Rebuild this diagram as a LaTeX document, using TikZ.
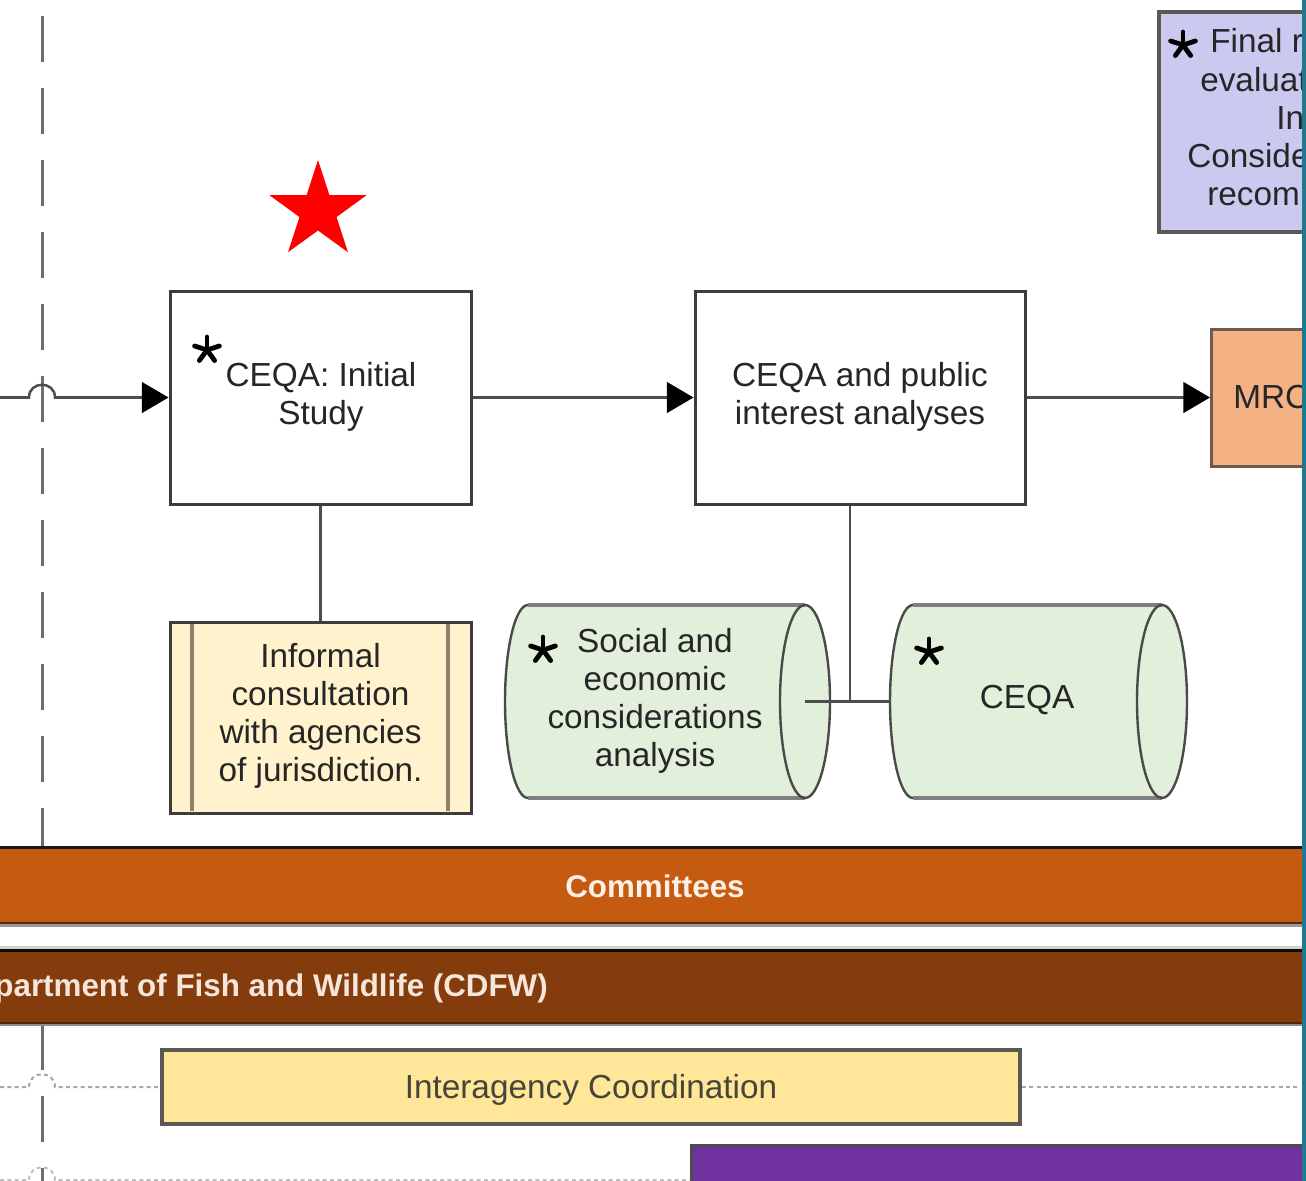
\documentclass[tikz,border=0pt]{standalone}
\usepackage{fontspec}
\setmainfont{Liberation Sans}
\usetikzlibrary{arrows.meta}
\definecolor{connc}{HTML}{4D4D4D}
\definecolor{boxc}{HTML}{3C3C3C}
\definecolor{infofill}{HTML}{FFF2CC}
\definecolor{infoline}{HTML}{8C806C}
\definecolor{cylfill}{HTML}{E2EFDA}
\definecolor{cylline}{HTML}{4A4A4A}
\definecolor{cyledge}{HTML}{7F7F7F}
\definecolor{iafill}{HTML}{FFE699}
\definecolor{iaedge}{HTML}{5A5A55}
\definecolor{iatext}{HTML}{45453A}
\definecolor{commfill}{HTML}{C55A11}
\definecolor{commtext}{HTML}{FDF0E6}
\definecolor{cdfwfill}{HTML}{843C0C}
\definecolor{cdfwtext}{HTML}{F5E6DC}
\definecolor{purpfill}{HTML}{7030A0}
\definecolor{lavfill}{HTML}{CCC9F1}
\definecolor{mrcfill}{HTML}{F4B183}
\definecolor{mrcedge}{HTML}{6E5A4E}
\definecolor{tealedge}{HTML}{1F7A8F}
\definecolor{dashc}{HTML}{6E6E6E}
\definecolor{dotc}{HTML}{A6A6A6}
\newcommand\pxu{0.75pt}
\newcommand\astmark[1]{\foreach \ang in {-90,-18,54,126,198}{\draw[line width=3.6pt, black, line cap=round] (#1) -- ++(\ang:13);}}
\newcommand\drawcyl[4]{%
  \fill[cylfill] (#2,605) -- (#1,605)
    .. controls ({#1-0.5523*#3},605) and ({#1-#3},648.2) .. ({#1-#3},701.5)
    .. controls ({#1-#3},754.8) and ({#1-0.5523*#3},798) .. (#1,798) -- (#2,798)
    .. controls ({#2+0.5523*#4},798) and ({#2+#4},754.8) .. ({#2+#4},701.5)
    .. controls ({#2+#4},648.2) and ({#2+0.5523*#4},605) .. cycle;
  \draw[cyledge, line width=2.6pt] (#1,605) -- (#2,605);
  \draw[cyledge, line width=2.6pt] (#1,798) -- (#2,798);
  \draw[cylline, line width=1.8pt] (#1,605)
    .. controls ({#1-0.5523*#3},605) and ({#1-#3},648.2) .. ({#1-#3},701.5)
    .. controls ({#1-#3},754.8) and ({#1-0.5523*#3},798) .. (#1,798);
  \draw[cylline, line width=1.8pt] (#2,701.5) ellipse [x radius=#4, y radius=96.5];
}
\begin{document}
\begin{tikzpicture}[x=0.75pt,y=-0.75pt,
  conn/.style={draw=connc, line width=1.9pt},
  arr/.style={-{Triangle[length=20pt,width=23pt,color=black]}},
  txt/.style={font=\fontsize{25}{28.5}\selectfont, text=black!85, align=center, inner sep=0pt},
  boxw/.style={draw=boxc, line width=2.25pt, fill=white, inner sep=0pt},
  dotline/.style={draw=dotc, line width=1.5pt, dash pattern=on 3pt off 2.5pt},
  bartxt/.style={font=\fontsize{23.5}{28}\selectfont\bfseries, inner sep=0pt}
]
\useasboundingbox (0,0) rectangle (1306,1181);
\clip (0,0) rectangle (1306,1181);

% vertical dashed swimlane separator
\coordinate (vtop) at (42,16);
\coordinate (vbot) at (42,1200);
\draw[draw=dashc, line width=2.25pt, dash pattern=on 34.5pt off 19.5pt] (vtop) -- (vbot);

% red star
\fill[red, shift={(318,211)}] (-90:51) -- (-54:19.5) -- (-18:51) -- (18:19.5) -- (54:51)
  -- (90:19.5) -- (126:51) -- (162:19.5) -- (198:51) -- (234:19.5) -- cycle;

% top-right box (clipped)
\node[fill=lavfill, draw=iaedge, line width=3pt, anchor=north west, minimum width=220*\pxu, minimum height=220*\pxu, inner sep=0pt] (fin) at (1157,10) {};
\begin{scope}
  \clip (1150,0) rectangle (1302,240);
  \node[txt, anchor=base west] (fin1) at (1210,53) {Final r};
  \node[txt, anchor=base west] (fin2) at (1200,91) {evaluat};
  \node[txt, anchor=base west] (fin3) at (1276,129) {In};
  \node[txt, anchor=base west] (fin4) at (1187,167) {Conside};
  \node[txt, anchor=base west] (fin5) at (1207,205) {recom};
\end{scope}
\astmark{1183,45}

% main boxes
\node[boxw, minimum width=301*\pxu, minimum height=213*\pxu] (box1) at (320.5,397.5) {};
\node[txt] (box1t) at (321,397) {CEQA: Initial\\Study};
\astmark{207,350}

\node[boxw, minimum width=330*\pxu, minimum height=213*\pxu] (box2) at (860,397.5) {};
\node[txt] (box2t) at (860,397) {CEQA and public\\interest analyses};

\node[draw=mrcedge, fill=mrcfill, line width=2.25pt, anchor=west, minimum width=200*\pxu, minimum height=137*\pxu, inner sep=0pt] (mrc) at (1210,397.5) {};
\begin{scope}
  \clip (1200,300) rectangle (1302,480);
  \node[txt, anchor=base west] (mrct) at (1233,408) {MRC};
\end{scope}

% arrows
\coordinate (lin) at (0,397.5);
\draw[conn, arr] (lin) -- (29,397.5) .. controls (29,380.5) and (55,380.5) .. (55,397.5) -- (box1.west);
\draw[conn, arr] (box1.east) -- (box2.west);
\draw[conn, arr] (box2.east) -- (mrc.west);

% informal consultation
\node[draw=boxc, fill=infofill, line width=2.25pt, minimum width=301*\pxu, minimum height=191*\pxu, inner sep=0pt] (inf) at (320.5,717.5) {};
\draw[infoline, line width=3pt] (192,624) -- (192,811);
\draw[infoline, line width=3pt] (448,624) -- (448,811);
\node[txt] (inft) at (320.5,716) {Informal\\consultation\\with agencies\\of jurisdiction.};
\draw[conn] (box1.south) -- (inf.north);

% cylinders
\drawcyl{528}{805}{23}{25}
\drawcyl{913}{1162}{23}{25}
\node[minimum width=325*\pxu, minimum height=193*\pxu, inner sep=0pt] (cyl1) at (667.5,701.5) {};
\node[minimum width=297*\pxu, minimum height=193*\pxu, inner sep=0pt] (cyl2) at (1038.5,701.5) {};
\node[txt] (cyl1t) at (655,701) {Social and\\economic\\considerations\\analysis};
\node[txt] (cyl2t) at (1027,700) {CEQA};
\astmark{543,650}
\astmark{929,652}

\coordinate (junc) at (850,701.5);
\coordinate (c1port) at (805,701.5);
\draw[conn] (box2.south -| junc) -- (junc);
\draw[conn] (c1port) -- (cyl2.west);

% committees bar
\fill[black!40] (0,921) rectangle (1302,927);
\node[fill=commfill, anchor=north west, minimum width=1302*\pxu, minimum height=75*\pxu, inner sep=0pt] (comm) at (0,847) {};
\draw[black!90, line width=2.25pt] (comm.north west) -- (comm.north east);
\draw[cdfwfill!70!black, line width=1.5pt] (comm.south west) -- (comm.south east);
\node[bartxt, text=commtext, anchor=base] (commt) at (655,897) {Committees};

% CDFW bar
\fill[black!18] (0,946) rectangle (1302,950);
\fill[black!45] (0,1021) rectangle (1302,1026);
\node[fill=cdfwfill, anchor=north west, minimum width=1302*\pxu, minimum height=72*\pxu, inner sep=0pt] (cdfw) at (0,950) {};
\draw[black!85!cdfwfill, line width=2.25pt] (cdfw.north west) -- (cdfw.north east);
\draw[cdfwfill!60!black, line width=1.5pt] (cdfw.south west) -- (cdfw.south east);
\node[bartxt, text=cdfwtext, anchor=base east] (cdfwt) at (548,996) {Department of Fish and Wildlife (CDFW)};

% interagency coordination
\coordinate (dl) at (0,1087);
\coordinate (dr) at (1300,1087);
\node[draw=iaedge, fill=iafill, line width=3pt, minimum width=858*\pxu, minimum height=74*\pxu, inner sep=0pt] (ia) at (591,1087) {};
\node[txt, text=iatext, anchor=base] (iat) at (591,1098) {Interagency Coordination};
\draw[dotline] (dl) -- (29,1087) .. controls (29,1070) and (55,1070) .. (55,1087) -- (ia.west);
\draw[dotline] (ia.east) -- (dr);

% purple bar at the bottom
\node[fill=purpfill, draw=black!70, line width=2.5pt, anchor=north west, minimum width=640*\pxu, minimum height=60*\pxu, inner sep=0pt] (pb) at (690,1144) {};
\coordinate (bl) at (0,1180);
\coordinate (br) at (690,1180);
\draw[dotline, draw=black!25] (bl) -- (29,1180) .. controls (29,1163) and (55,1163) .. (55,1180) -- (br);

% teal right edge
\fill[tealedge] (1302,0) rectangle (1306,1181);
\end{tikzpicture}
\end{document}
